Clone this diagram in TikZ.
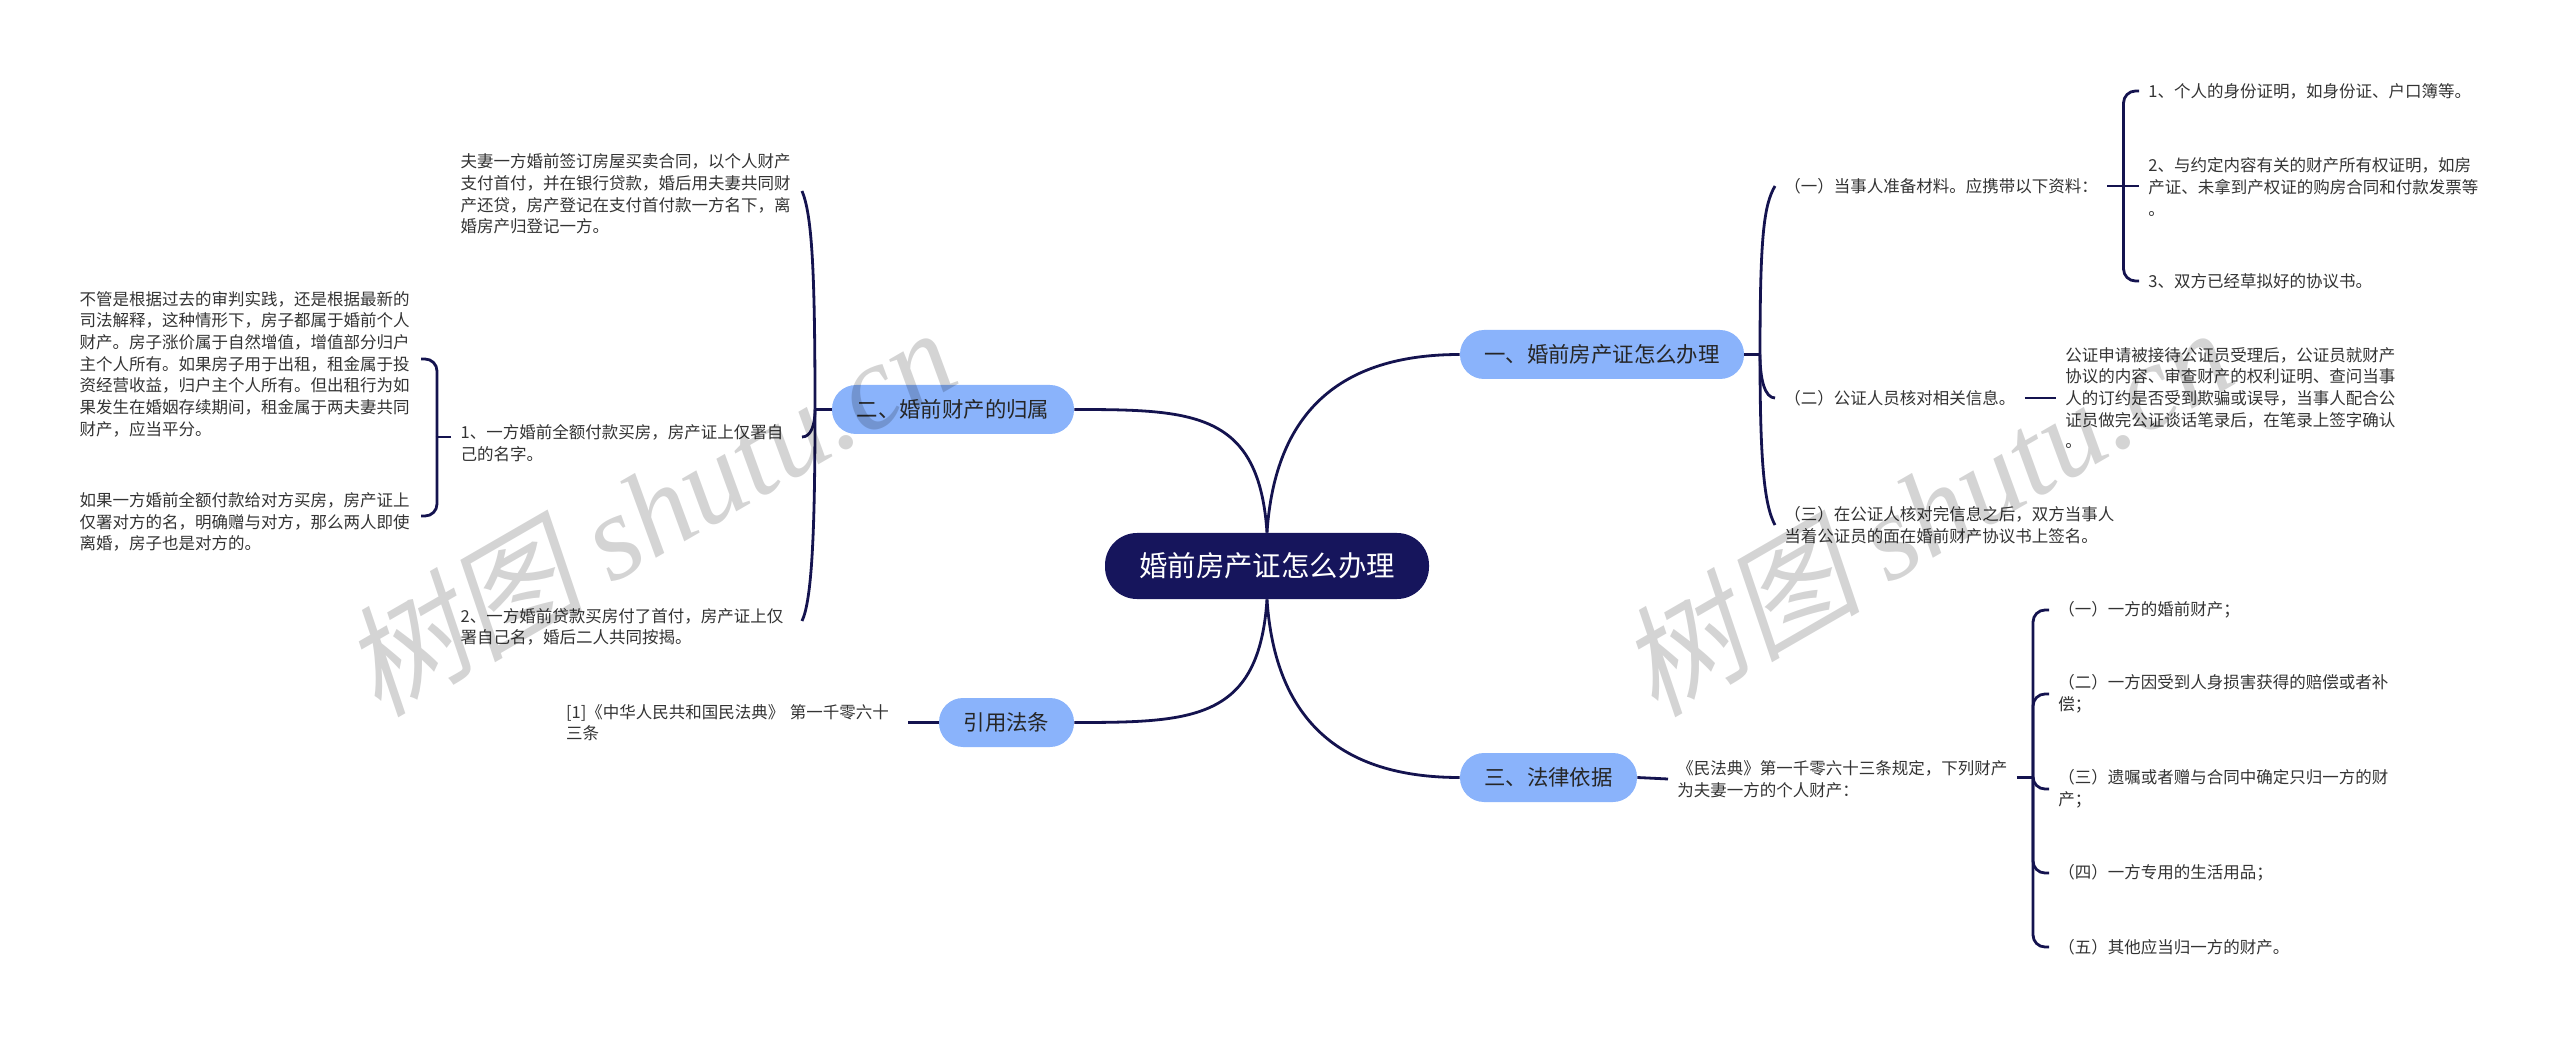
\documentclass[tikz,border=0pt]{standalone}
\usepackage{fontspec}
\setmainfont{Noto Sans CJK SC}
\newfontfamily\marksans[FakeSlant=0.2]{Noto Sans CJK SC}
\newfontfamily\markserif{Liberation Serif}
\definecolor{rootblue}{HTML}{16155C}
\definecolor{branchblue}{HTML}{8AB3FB}
\definecolor{linkblue}{HTML}{14134F}
\definecolor{leaftext}{HTML}{333333}
\tikzset{
	rootnode/.style={rounded corners=16pt,fill=rootblue,text=white,minimum width=162pt,minimum height=33pt,inner sep=0pt,font=\fontsize{14.2}{16}\selectfont},
	branchnode/.style={rounded corners=12pt,fill=branchblue,text=black!85,minimum height=24.5pt,inner sep=0pt,font=\fontsize{10.7}{13}\selectfont},
	leafnode/.style={anchor=west,inner xsep=4.5pt,inner ysep=0pt,align=left,text=leaftext,font=\fontsize{8.25}{10.85}\selectfont},
	leftnode/.style={leafnode,anchor=east,text width=166pt},
	link/.style={linkblue,line width=1.4pt},
	watermark/.style={black,opacity=0.17,rotate=30,inner sep=0pt,font=\fontsize{60.5}{62}\selectfont},
}
\begin{document}
\begin{tikzpicture}[x=0.5pt,y=-0.5pt]
	\useasboundingbox (0,0) rectangle (2560,1037);
	% root and branches
	\node[rootnode] (root) at (1267,566) {婚前房产证怎么办理};
	\node[branchnode,minimum width=142pt] (b1) at (1602,354.5) {一、婚前房产证怎么办理};
	\node[branchnode,minimum width=121pt] (b2) at (953,409.5) {二、婚前财产的归属};
	\node[branchnode,minimum width=88.5pt] (b3) at (1548.5,777.5) {三、法律依据};
	\node[branchnode,minimum width=67.5pt] (b4) at (1006.5,722.5) {引用法条};
	% first branch, right side
	\node[leafnode] (c11) at (1775,186) {（一）当事人准备材料。应携带以下资料：};
	\node[leafnode] (c12) at (1775,398) {（二）公证人员核对相关信息。};
	\node[leafnode] (c13) at (1775,525) {（三）在公证人核对完信息之后，双方当事人\\当着公证员的面在婚前财产协议书上签名。};
	\node[leafnode] (d11) at (2139,91) {1、个人的身份证明，如身份证、户口簿等。};
	\node[leafnode] (d12) at (2139,187) {2、与约定内容有关的财产所有权证明，如房\\产证、未拿到产权证的购房合同和付款发票等\\。};
	\node[leafnode] (d13) at (2139,281) {3、双方已经草拟好的协议书。};
	\node[leafnode] (d14) at (2056,398) {公证申请被接待公证员受理后，公证员就财产\\协议的内容、审查财产的权利证明、查问当事\\人的订约是否受到欺骗或误导，当事人配合公\\证员做完公证谈话笔录后，在笔录上签字确认\\。};
	% second branch, left side
	\node[leftnode] (c21) at (802,194) {夫妻一方婚前签订房屋买卖合同，以个人财产\\支付首付，并在银行贷款，婚后用夫妻共同财\\产还贷，房产登记在支付首付款一方名下，离\\婚房产归登记一方。};
	\node[leftnode] (c22) at (802,443) {1、一方婚前全额付款买房，房产证上仅署自\\己的名字。};
	\node[leftnode] (c23) at (802,627) {2、一方婚前贷款买房付了首付，房产证上仅\\署自己名，婚后二人共同按揭。};
	\node[leftnode] (d21) at (421,364) {不管是根据过去的审判实践，还是根据最新的\\司法解释，这种情形下，房子都属于婚前个人\\财产。房子涨价属于自然增值，增值部分归户\\主个人所有。如果房子用于出租，租金属于投\\资经营收益，归户主个人所有。但出租行为如\\果发生在婚姻存续期间，租金属于两夫妻共同\\财产，应当平分。};
	\node[leftnode] (d22) at (421,522) {如果一方婚前全额付款给对方买房，房产证上\\仅署对方的名，明确赠与对方，那么两人即使\\离婚，房子也是对方的。};
	% third branch and citation
	\node[leafnode] (c31) at (1668,779) {《民法典》第一千零六十三条规定，下列财产\\为夫妻一方的个人财产：};
	\node[leafnode] (e1) at (2049,610) {（一）一方的婚前财产；};
	\node[leafnode] (e2) at (2049,694) {（二）一方因受到人身损害获得的赔偿或者补\\偿；};
	\node[leafnode] (e3) at (2049,789) {（三）遗嘱或者赠与合同中确定只归一方的财\\产；};
	\node[leafnode] (e4) at (2049,873) {（四）一方专用的生活用品；};
	\node[leafnode] (e5) at (2049,947) {（五）其他应当归一方的财产。};
	\node[leftnode] (c41) at (907.5,722.5) {[1]《中华人民共和国民法典》 第一千零六十\\三条};
	% elbows
	\coordinate (r1) at (1760,354.5);
	\coordinate (r2) at (815,409.5);
	\coordinate (s1) at (2123.5,186);
	\coordinate (s2) at (437,437);
	\coordinate (s3) at (2033,777.5);
	% root links
	\draw[link] (root.north) .. controls (1275,412) and (1340,354.5) .. (b1.west);
	\draw[link] (root.north) .. controls (1259,412) and (1194,409.5) .. (b2.east);
	\draw[link] (root.south) .. controls (1275,720) and (1340,777.5) .. (b3.west);
	\draw[link] (root.south) .. controls (1259,720) and (1194,722.5) .. (b4.east);
	% first branch links
	\draw[link] (b1.east) -- (r1);
	\draw[link] (r1) .. controls (1760,235) and (1764,205) .. (c11.west);
	\draw[link] (r1) .. controls (1760,380) and (1765,398) .. (c12.west);
	\draw[link] (r1) .. controls (1760,460) and (1764,505) .. (c13.west);
	\draw[link] (c11.east) -- (c11.east -| d12.west);
	\draw[link,rounded corners=6pt] (s1) |- (d11.west);
	\draw[link,rounded corners=6pt] (s1) |- (d13.west);
	\draw[link] (c12.east) -- (d14.west);
	% second branch links
	\coordinate (t1) at (802,191);
	\coordinate (t2) at (802,437);
	\coordinate (t3) at (802,621);
	\coordinate (t4) at (421,359);
	\coordinate (t5) at (421,516);
	\draw[link] (b2.west) -- (r2);
	\draw[link] (r2) .. controls (815,270) and (812,215) .. (t1);
	\draw[link] (r2) .. controls (815,425) and (811,437) .. (t2);
	\draw[link] (r2) .. controls (815,530) and (812,600) .. (t3);
	\draw[link] (s2 -| c22.west) -- (s2);
	\draw[link,rounded corners=6pt] (s2) |- (t4);
	\draw[link,rounded corners=6pt] (s2) |- (t5);
	% third branch links
	\draw[link] (b3.east) -- (c31.west);
	\draw[link] (c31.east |- s3) -- (s3);
	\foreach \e in {e1,e2,e3,e4,e5} {
		\draw[link,rounded corners=6pt] (s3) |- (\e.west);
	}
	\draw[link] (b4.west) -- (c41.east |- b4.west);
	% watermarks
	\foreach \wx/\wname in {648/wmleft,1925/wmright} {
		\node[watermark] (\wname) at (\wx,510) {{\marksans 树图} {\markserif\itshape shutu.cn}};
	}
\end{tikzpicture}
\end{document}
